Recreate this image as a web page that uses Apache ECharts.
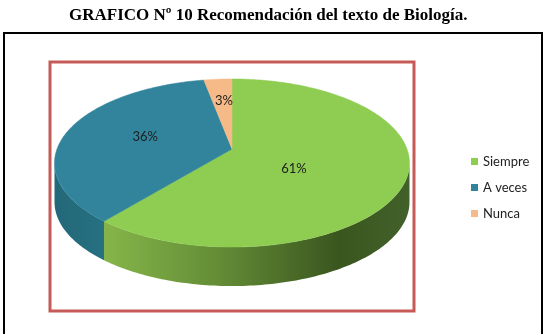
<!DOCTYPE html>
<html><head><meta charset="utf-8">
<script src="https://cdn.jsdelivr.net/npm/echarts/dist/echarts.min.js"></script>
<style>html,body{margin:0;padding:0;background:#fff}#c{width:557px;height:334px}</style>
</head><body><div id="c"></div>
<script>
// ---- data ----
const categories = ['Siempre', 'A veces', 'Nunca'];
const values = [61, 36, 3];
const labels = ['61%', '36%', '3%'];
const titleText = 'GRAFICO Nº 10 Recomendación del texto de Biología.';

// ---- styles ----
const topColors = ['#8fcc52', '#31849b', '#f5ba88'];
const wallStops = [
  [[0, '#8dbd4e'], [0.15, '#84b449'], [0.45, '#658e37'], [0.8, '#3a561f'], [1, '#42612a']],
  [[0, '#236878'], [0.3, '#2a7a8c'], [1, '#2e8396']],
  [[0, '#d89868'], [1, '#d89868']]
];
const labelPlace = [[0.41, 14], [0.53, 2], [0.66, 1]]; // radius fraction, angle shift
const G = { cx: 232, cy: 149, A: 175, B: 81.7, k: 0.1667, depth: 39 };

function proj(r, deg) {
  const t = deg * Math.PI / 180;
  const u = r * Math.sin(t), w = r * Math.cos(t);
  const d = 1 + G.k * w;
  return [G.cx + G.A * u / d, G.cy - G.B * w / d];
}
function arc(a0, a1, dy) {
  const pts = [];
  const n = Math.max(2, Math.ceil(Math.abs(a1 - a0)));
  for (let i = 0; i <= n; i++) {
    const p = proj(1, a0 + (a1 - a0) * i / n);
    pts.push([p[0], p[1] + (dy || 0)]);
  }
  return pts;
}
const total = values.reduce((a, b) => a + b, 0);
const silA = Math.acos(-G.k) * 180 / Math.PI;
const halfW = G.A / Math.sqrt(1 - G.k * G.k);

function makeRender(i) {
  return function (params, api) {
    const v = api.value(0);
    let start = 0;
    for (let j = 0; j < i; j++) start += values[j];
    const a0 = start / total * 360, a1 = (start + v) / total * 360;
    const children = [];
    const w0 = Math.max(a0, silA), w1 = Math.min(a1, 360 - silA);
    if (w1 > w0) {
      const top = arc(w0, w1, 0);
      const bot = arc(w1, w0, G.depth);
      children.push({
        type: 'polygon', z2: 1,
        shape: { points: top.concat(bot) },
        style: {
          fill: {
            type: 'linear', x: G.cx - halfW, y: 0, x2: G.cx + halfW, y2: 0, global: true,
            colorStops: wallStops[i].map(s => ({ offset: s[0], color: s[1] }))
          },
          stroke: null
        }
      });
    }
    const apex = proj(0, 0);
    children.push({
      type: 'polygon', z2: 5,
      shape: { points: [apex].concat(arc(a0, a1, 0)) },
      style: { fill: topColors[i], stroke: topColors[i], lineWidth: 0.5 }
    });
    const mid = (a0 + a1) / 2 + labelPlace[i][1];
    const lp = proj(labelPlace[i][0], mid);
    children.push({
      type: 'text', z2: 10,
      style: {
        text: labels[i], x: lp[0], y: lp[1], align: 'center', verticalAlign: 'middle',
        fill: '#1e1e1e', fontSize: 13, fontFamily: 'Lato'
      }
    });
    return { type: 'group', children: children };
  };
}

const chart = echarts.init(document.getElementById('c'), null, { renderer: 'canvas' });
chart.setOption({
  animation: false,
  title: {
    text: titleText, left: 64, top: 2,
    textStyle: { fontFamily: 'Liberation Serif', fontWeight: 'bold', fontSize: 17, color: '#000' }
  },
  legend: {
    orient: 'vertical', left: 466, top: 150, icon: 'rect', itemWidth: 7, itemHeight: 7, itemGap: 13,
    textStyle: { fontFamily: 'Lato', fontSize: 13, color: '#1e1e1e' },
    data: categories, selectedMode: false
  },
  graphic: [
    { type: 'rect', shape: { x: 4, y: 33, width: 538, height: 320 }, style: { fill: 'none', stroke: '#000', lineWidth: 2 }, z: 0 },
    { type: 'rect', shape: { x: 50, y: 62, width: 364, height: 249 }, style: { fill: 'none', stroke: '#c55a57', lineWidth: 3 }, z: 0 }
  ],
  series: categories.map((name, i) => ({
    type: 'custom', name: name, coordinateSystem: 'none', silent: true,
    itemStyle: { color: topColors[i] },
    renderItem: makeRender(i),
    data: [[values[i]]]
  }))
});
</script></body></html>
